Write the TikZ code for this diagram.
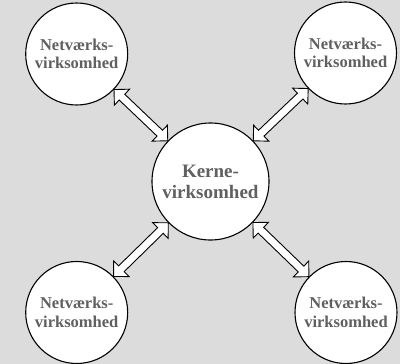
\documentclass[tikz,border=0pt]{standalone}
\usepackage{fontspec}
\setmainfont{Liberation Serif}
\usetikzlibrary{calc}
\definecolor{bg}{HTML}{DCDCDC}
\definecolor{txt}{HTML}{606060}
\tikzset{
  circ/.style={circle, draw=black, line width=1.1pt, fill=white, inner sep=0pt,
    align=center, text=txt, font=\bfseries\fontsize{16.5}{18.3}\selectfont},
  bigcirc/.style={circ, font=\bfseries\fontsize{19}{21}\selectfont},
  arrbody/.style={draw=black, fill=white, line width=0.9pt, line join=miter}
}
\newcommand\biarrow[2]{%
  \path (#1) -- (#2) coordinate[pos=0] (A) coordinate[pos=1] (B);
  \coordinate (H1) at ($(A)!11pt!(B)$);
  \coordinate (H2) at ($(B)!11pt!(A)$);
  \draw[arrbody] (A) -- ($(H1)!11pt!90:(B)$) -- ($(H1)!4pt!90:(B)$)
    -- ($(H2)!4pt!-90:(A)$) -- ($(H2)!11pt!-90:(A)$) -- (B)
    -- ($(H2)!11pt!90:(A)$) -- ($(H2)!4pt!90:(A)$)
    -- ($(H1)!4pt!-90:(B)$) -- ($(H1)!11pt!-90:(B)$) -- cycle;
}
\begin{document}
\begin{tikzpicture}[x=1pt, y=-1pt]
  \fill[bg] (0,0) rectangle (400,364);
  \useasboundingbox (0,0) rectangle (400,364);
  \node[bigcirc, minimum size=117pt] (core) at (210.5,181.5) {Kerne-\\virksomhed};
  \node[circ, minimum size=102pt] (tl) at (76.7,54) {Netværks-\\virksomhed};
  \node[circ, minimum size=102pt] (tr) at (345.5,53) {Netværks-\\virksomhed};
  \node[circ, minimum size=102pt] (bl) at (76.7,312.5) {Netværks-\\virksomhed};
  \node[circ, minimum size=102pt] (br) at (346,312.5) {Netværks-\\virksomhed};
  \biarrow{tl}{core}
  \biarrow{tr}{core}
  \biarrow{bl}{core}
  \biarrow{br}{core}
\end{tikzpicture}
\end{document}
